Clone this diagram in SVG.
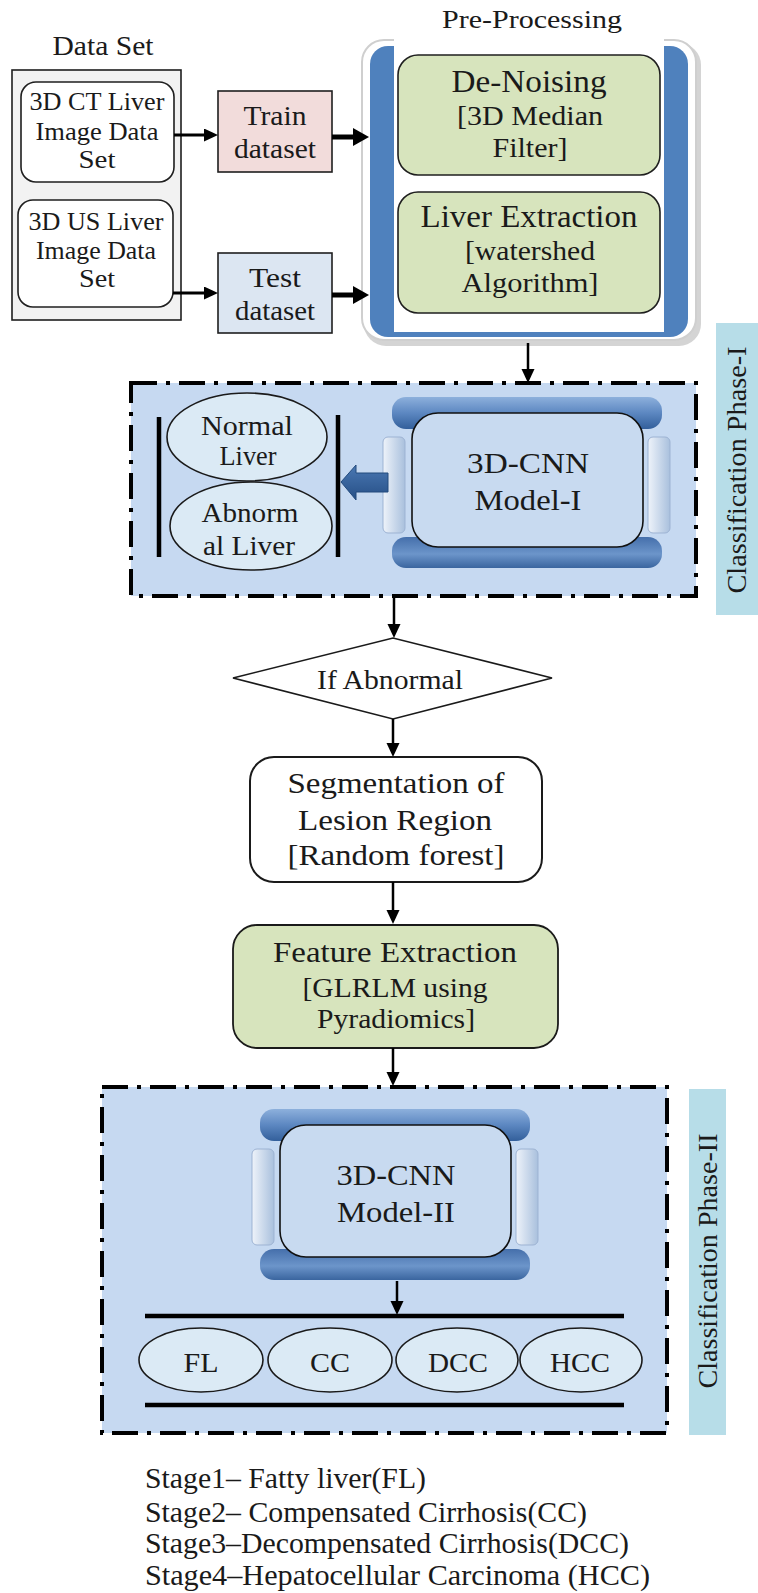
<svg xmlns="http://www.w3.org/2000/svg" width="758" height="1593" viewBox="0 0 758 1593">
<defs>
<style>
.t{font-family:"Liberation Serif","Times New Roman",serif;fill:#1a1a1a;text-anchor:middle}
.s{text-anchor:start}
.box{stroke:#1f1f1f;stroke-width:1.6}
.dash{fill:#c6d9f1;stroke:#000;stroke-width:4;stroke-dasharray:26 9 4 9}
.ell{fill:#dbeaf5;stroke:#1a1a1a;stroke-width:1.6}
.bar{stroke:#000;stroke-width:4.5}
.ln{stroke:#000;stroke-width:2.5;fill:none}
.lb{fill:#b7dde8}
</style>
<linearGradient id="gTop" x1="0" y1="0" x2="0" y2="1">
<stop offset="0" stop-color="#8db0dc"/><stop offset="0.5" stop-color="#5c87c1"/><stop offset="1" stop-color="#335f9b"/>
</linearGradient>
<linearGradient id="gBot" x1="0" y1="0" x2="0" y2="1">
<stop offset="0" stop-color="#456fab"/><stop offset="0.55" stop-color="#6c95ca"/><stop offset="1" stop-color="#3a659f"/>
</linearGradient>
<linearGradient id="gBar" x1="0" y1="0" x2="1" y2="0">
<stop offset="0" stop-color="#eef3fa"/><stop offset="1" stop-color="#a9c0dd"/>
</linearGradient>
<linearGradient id="gArr" x1="0" y1="0" x2="0" y2="1">
<stop offset="0" stop-color="#4a78b3"/><stop offset="1" stop-color="#264f86"/>
</linearGradient>
<marker id="ah" markerUnits="userSpaceOnUse" markerWidth="15" markerHeight="14" refX="1" refY="6.5" orient="auto">
<path d="M0,0 L14,6.5 L0,13 z" fill="#000"/>
</marker>
<marker id="ahb" markerUnits="userSpaceOnUse" markerWidth="17" markerHeight="19" refX="1" refY="9" orient="auto">
<path d="M0,0 L16,9 L0,18 z" fill="#000"/>
</marker>
</defs>
<rect width="758" height="1593" fill="#fff"/>

<g id="dataset">
<text class="t" x="103" y="55" font-size="27" textLength="101" lengthAdjust="spacingAndGlyphs">Data Set</text>
<rect x="12" y="70" width="169" height="250" fill="#f2f2f2" class="box"/>
</g>
<g id="ct">
<rect x="21" y="82" width="153" height="100" rx="15" fill="#fff" class="box"/>
<text class="t" font-size="25"><tspan x="97" y="110" textLength="135" lengthAdjust="spacingAndGlyphs">3D CT Liver</tspan><tspan x="97" y="140" textLength="123" lengthAdjust="spacingAndGlyphs">Image Data</tspan><tspan x="97" y="168" textLength="37" lengthAdjust="spacingAndGlyphs">Set</tspan></text>
</g>
<g id="us">
<rect x="18" y="200" width="155" height="107" rx="15" fill="#fff" class="box"/>
<text class="t" font-size="25"><tspan x="96" y="230" textLength="135" lengthAdjust="spacingAndGlyphs">3D US Liver</tspan><tspan x="96" y="259" textLength="120" lengthAdjust="spacingAndGlyphs">Image Data</tspan><tspan x="97" y="287" textLength="36" lengthAdjust="spacingAndGlyphs">Set</tspan></text>
</g>
<g id="train">
<rect x="218" y="91" width="114" height="81" fill="#f2dcdb" class="box"/>
<text class="t" font-size="28"><tspan x="275" y="125" textLength="63" lengthAdjust="spacingAndGlyphs">Train</tspan><tspan x="275" y="158" textLength="82" lengthAdjust="spacingAndGlyphs">dataset</tspan></text>
</g>
<g id="test">
<rect x="218" y="253" width="114" height="80" fill="#dce6f2" class="box"/>
<text class="t" font-size="28"><tspan x="275" y="287" textLength="52" lengthAdjust="spacingAndGlyphs">Test</tspan><tspan x="275" y="320" textLength="80" lengthAdjust="spacingAndGlyphs">dataset</tspan></text>
</g>

<g id="preprocessing">
<text class="t" x="532" y="28" font-size="26" textLength="180" lengthAdjust="spacingAndGlyphs">Pre-Processing</text>
<rect x="364" y="43" width="337" height="303" rx="22" fill="#d4d4d4"/>
<rect x="362" y="40" width="334" height="300" rx="22" fill="#fff" stroke="#cfcfcf" stroke-width="2"/>
<rect x="370" y="46" width="318" height="291" rx="18" fill="#4f81bd"/>
<rect x="394" y="36" width="270" height="296" fill="#fff"/>
</g>
<g id="denoising">
<rect x="398" y="55" width="262" height="120" rx="20" fill="#d7e4bd" class="box"/>
<text class="t" x="529" y="92" font-size="32" textLength="155" lengthAdjust="spacingAndGlyphs">De-Noising</text>
<text class="t" font-size="27"><tspan x="530" y="125" textLength="146" lengthAdjust="spacingAndGlyphs">[3D Median</tspan><tspan x="530" y="157" textLength="75" lengthAdjust="spacingAndGlyphs">Filter]</tspan></text>
</g>
<g id="liverextraction">
<rect x="398" y="192" width="262" height="121" rx="20" fill="#d7e4bd" class="box"/>
<text class="t" x="529" y="227" font-size="32" textLength="217" lengthAdjust="spacingAndGlyphs">Liver Extraction</text>
<text class="t" font-size="27"><tspan x="530" y="260" textLength="130" lengthAdjust="spacingAndGlyphs">[watershed</tspan><tspan x="530" y="292" textLength="137" lengthAdjust="spacingAndGlyphs">Algorithm]</tspan></text>
</g>

<g id="phase1">
<rect x="131" y="383" width="565" height="213" class="dash"/>
<line x1="159" y1="417" x2="159" y2="557" class="bar"/>
<line x1="338" y1="415" x2="338" y2="557" class="bar"/>
</g>
<g id="normal">
<ellipse cx="247" cy="437" rx="80" ry="44" class="ell"/>
<text class="t" font-size="27"><tspan x="247" y="435" textLength="92" lengthAdjust="spacingAndGlyphs">Normal</tspan><tspan x="248" y="465" textLength="57" lengthAdjust="spacingAndGlyphs">Liver</tspan></text>
</g>
<g id="abnormal">
<ellipse cx="251" cy="526" rx="81" ry="44" class="ell"/>
<text class="t" font-size="27"><tspan x="250" y="522" textLength="97" lengthAdjust="spacingAndGlyphs">Abnorm</tspan><tspan x="249" y="555" textLength="92" lengthAdjust="spacingAndGlyphs">al Liver</tspan></text>
</g>
<g id="cnn1">
<rect x="392" y="397" width="270" height="32" rx="14" fill="url(#gTop)"/>
<rect x="392" y="537" width="270" height="31" rx="14" fill="url(#gBot)"/>
<rect x="383" y="437" width="22" height="96" rx="5" fill="url(#gBar)" stroke="#9db3d3"/>
<rect x="648" y="437" width="22" height="96" rx="5" fill="url(#gBar)" stroke="#9db3d3"/>
<rect x="412" y="413" width="231" height="134" rx="26" fill="#c8daf0" stroke="#111" stroke-width="1.6"/>
<text class="t" font-size="30"><tspan x="528" y="473" textLength="122" lengthAdjust="spacingAndGlyphs">3D-CNN</tspan><tspan x="528" y="510" textLength="107" lengthAdjust="spacingAndGlyphs">Model-I</tspan></text>
</g>
<g id="label1">
<rect x="716" y="323" width="42" height="292" class="lb"/>
<text class="t" font-size="28" transform="translate(746,470) rotate(-90)" x="0" y="0" textLength="247" lengthAdjust="spacingAndGlyphs">Classification Phase-I</text>
</g>

<g id="ifabnormal">
<polygon points="233,678 393,638 552,678 393,719" fill="#fff" stroke="#1a1a1a" stroke-width="1.6"/>
<text class="t" x="390" y="689" font-size="28" textLength="146" lengthAdjust="spacingAndGlyphs">If Abnormal</text>
</g>
<g id="segmentation">
<rect x="250" y="757" width="292" height="125" rx="24" fill="#fff" stroke="#1a1a1a" stroke-width="2"/>
<text class="t" font-size="30"><tspan x="396" y="793" textLength="217" lengthAdjust="spacingAndGlyphs">Segmentation of</tspan><tspan x="395" y="830" textLength="194" lengthAdjust="spacingAndGlyphs">Lesion Region</tspan><tspan x="396" y="865" textLength="217" lengthAdjust="spacingAndGlyphs">[Random forest]</tspan></text>
</g>
<g id="feature">
<rect x="233" y="925" width="325" height="123" rx="24" fill="#d7e4bd" stroke="#1a1a1a" stroke-width="1.8"/>
<text class="t" font-size="29"><tspan x="395" y="962" textLength="244" lengthAdjust="spacingAndGlyphs">Feature Extraction</tspan></text>
<text class="t" font-size="28"><tspan x="395" y="997" textLength="185" lengthAdjust="spacingAndGlyphs">[GLRLM using</tspan><tspan x="396" y="1028" textLength="158" lengthAdjust="spacingAndGlyphs">Pyradiomics]</tspan></text>
</g>

<g id="phase2">
<rect x="102" y="1087" width="565" height="346" class="dash"/>
<line x1="145" y1="1316" x2="624" y2="1316" class="bar" stroke-width="4"/>
<line x1="145" y1="1405" x2="624" y2="1405" class="bar" stroke-width="4"/>
</g>
<g id="cnn2" transform="translate(-132,712)">
<rect x="392" y="397" width="270" height="32" rx="14" fill="url(#gTop)"/>
<rect x="392" y="537" width="270" height="31" rx="14" fill="url(#gBot)"/>
<rect x="384" y="437" width="22" height="96" rx="5" fill="url(#gBar)" stroke="#9db3d3"/>
<rect x="648" y="437" width="22" height="96" rx="5" fill="url(#gBar)" stroke="#9db3d3"/>
<rect x="412" y="413" width="231" height="132" rx="26" fill="#c8daf0" stroke="#111" stroke-width="1.6"/>
<text class="t" font-size="30"><tspan x="528" y="473" textLength="119" lengthAdjust="spacingAndGlyphs">3D-CNN</tspan><tspan x="528" y="510" textLength="118" lengthAdjust="spacingAndGlyphs">Model-II</tspan></text>
</g>
<g id="fl">
<ellipse cx="201" cy="1360" rx="62" ry="32" class="ell"/>
<text class="t" x="201" y="1372" font-size="28" textLength="35" lengthAdjust="spacingAndGlyphs">FL</text>
</g>
<g id="cc">
<ellipse cx="330" cy="1360" rx="62" ry="32" class="ell"/>
<text class="t" x="330" y="1372" font-size="28" textLength="40" lengthAdjust="spacingAndGlyphs">CC</text>
</g>
<g id="dcc">
<ellipse cx="457" cy="1360" rx="61" ry="32" class="ell"/>
<text class="t" x="458" y="1372" font-size="28" textLength="60" lengthAdjust="spacingAndGlyphs">DCC</text>
</g>
<g id="hcc">
<ellipse cx="581" cy="1360" rx="61" ry="32" class="ell"/>
<text class="t" x="580" y="1372" font-size="28" textLength="60" lengthAdjust="spacingAndGlyphs">HCC</text>
</g>
<g id="label2">
<rect x="689" y="1089" width="37" height="346" class="lb"/>
<text class="t" font-size="28" transform="translate(717,1261) rotate(-90)" x="0" y="0" textLength="255" lengthAdjust="spacingAndGlyphs">Classification Phase-II</text>
</g>

<g id="legend">
<text class="t s" font-size="29"><tspan x="145" y="1488" textLength="281" lengthAdjust="spacingAndGlyphs">Stage1– Fatty liver(FL)</tspan><tspan x="145" y="1522" textLength="442" lengthAdjust="spacingAndGlyphs">Stage2– Compensated Cirrhosis(CC)</tspan><tspan x="145" y="1553" textLength="484" lengthAdjust="spacingAndGlyphs">Stage3–Decompensated Cirrhosis(DCC)</tspan><tspan x="145" y="1585" textLength="505" lengthAdjust="spacingAndGlyphs">Stage4–Hepatocellular Carcinoma (HCC)</tspan></text>
</g>

<g id="connectors">
<line x1="174" y1="135" x2="205" y2="135" stroke="#000" stroke-width="3" marker-end="url(#ah)"/>
<line x1="173" y1="293" x2="205" y2="293" stroke="#000" stroke-width="3" marker-end="url(#ah)"/>
<line x1="332" y1="137" x2="354" y2="137" stroke="#000" stroke-width="5" marker-end="url(#ahb)"/>
<line x1="332" y1="295" x2="354" y2="295" stroke="#000" stroke-width="5" marker-end="url(#ahb)"/>
<line x1="528" y1="343" x2="528" y2="370" class="ln" marker-end="url(#ah)"/>
<line x1="394" y1="598" x2="394" y2="625" class="ln" marker-end="url(#ah)"/>
<line x1="393" y1="719" x2="393" y2="744" class="ln" marker-end="url(#ah)"/>
<line x1="393" y1="882" x2="393" y2="911" class="ln" marker-end="url(#ah)"/>
<line x1="393" y1="1048" x2="393" y2="1073" class="ln" marker-end="url(#ah)"/>
<line x1="397" y1="1281" x2="397" y2="1302" class="ln" marker-end="url(#ah)"/>
<polygon points="388,473 356,473 356,465 341,482 356,500 356,492 388,492" fill="url(#gArr)" stroke="#234a7d" stroke-width="1"/>
</g>
</svg>
